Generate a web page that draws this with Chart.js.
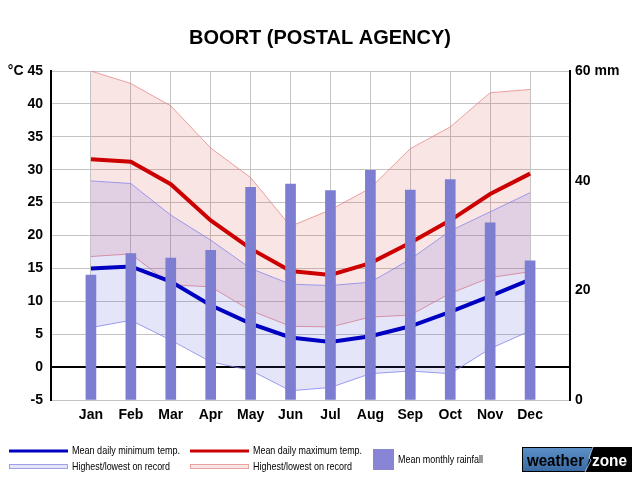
<!DOCTYPE html>
<html>
<head>
<meta charset="utf-8">
<script src="https://cdn.jsdelivr.net/npm/chart.js@4.4.1/dist/chart.umd.min.js"></script>
<style>
html,body{margin:0;padding:0;background:#fff;}
#wrap{width:640px;height:480px;position:relative;}
</style>
</head>
<body>
<div id="wrap"><canvas id="c" width="640" height="480"></canvas></div>
<script>
const titleText = 'BOORT (POSTAL AGENCY)';
const months = ['Jan','Feb','Mar','Apr','May','Jun','Jul','Aug','Sep','Oct','Nov','Dec'];
const meanMin    = [15.0,15.3,13.0,9.4,6.6,4.5,3.8,4.7,6.2,8.4,10.8,13.3];
const meanMax    = [31.6,31.2,27.8,22.3,18.0,14.6,14.0,15.8,18.9,22.3,26.3,29.4];
const highestMax = [45.0,43.1,39.7,33.3,28.8,21.4,23.9,27.2,33.2,36.5,41.7,42.2];
const lowestMax  = [16.8,17.2,12.5,12.2,8.6,6.2,6.1,7.6,7.9,11.2,13.6,14.5];
const highestMin = [28.3,27.9,23.1,19.3,15.0,12.6,12.4,12.9,16.4,20.7,23.6,26.5];
const lowestMin  = [6.0,7.1,4.1,0.8,-0.5,-3.6,-3.1,-1.0,-0.6,-1.0,2.8,5.5];
const rainfall   = [22.8,26.7,25.9,27.3,38.8,39.4,38.2,41.9,38.3,40.2,32.3,25.4];
const tempTicks = {min:-5, max:45, step:5};
const rainTicks = {min:0, max:60, step:20};
const legendLabels = ['Mean daily minimum temp.','Highest/lowest on record','Mean daily maximum temp.','Highest/lowest on record','Mean monthly rainfall'];

const FONT = "'Liberation Sans', Arial, sans-serif";
const pts = arr => arr.map((v,i)=>({x:i,y:v}));

const decor = {
  id:'decor',
  afterDraw(chart){
    const ctx = chart.ctx;
    ctx.save();
    // title
    ctx.fillStyle = '#000';
    ctx.font = 'bold 20px ' + FONT;
    ctx.textAlign = 'center';
    ctx.textBaseline = 'middle';
    ctx.fillText(titleText, 320, 38);
    // legend
    ctx.textAlign = 'left';
    ctx.font = '11px ' + FONT;
    // blue line
    ctx.fillStyle = '#0000c0';
    ctx.fillRect(9, 449.5, 59, 3);
    ctx.fillStyle = '#000';
    ctx.fillText(legendLabels[0], 72, 451, 108);
    // blue band
    ctx.fillStyle = 'rgb(229,229,250)';
    ctx.fillRect(9.5, 464.5, 58, 4);
    ctx.strokeStyle = 'rgb(160,160,232)';
    ctx.lineWidth = 1;
    ctx.strokeRect(9.5, 464.5, 58, 4);
    ctx.fillStyle = '#000';
    ctx.fillText(legendLabels[1], 72, 467, 98);
    // red line
    ctx.fillStyle = '#cc0000';
    ctx.fillRect(190, 449.5, 59, 3);
    ctx.fillStyle = '#000';
    ctx.fillText(legendLabels[2], 253, 451, 109);
    // red band
    ctx.fillStyle = 'rgb(250,229,229)';
    ctx.fillRect(190.5, 464.5, 58, 4);
    ctx.strokeStyle = 'rgb(232,160,160)';
    ctx.strokeRect(190.5, 464.5, 58, 4);
    ctx.fillStyle = '#000';
    ctx.fillText(legendLabels[3], 253, 467, 99);
    // rain swatch
    ctx.fillStyle = 'rgb(136,134,212)';
    ctx.fillRect(373, 449, 21, 21);
    ctx.fillStyle = '#000';
    ctx.fillText(legendLabels[4], 398, 459.5, 85);
    // logo
    ctx.fillStyle = '#000';
    ctx.fillRect(522, 447, 110, 25);
    const g = ctx.createLinearGradient(0,448,0,471);
    g.addColorStop(0,'#5b8fc6');
    g.addColorStop(1,'#3a6aa3');
    ctx.fillStyle = g;
    ctx.beginPath();
    ctx.moveTo(523,448); ctx.lineTo(592,448); ctx.lineTo(586,471); ctx.lineTo(523,471); ctx.closePath();
    ctx.fill();
    ctx.strokeStyle = 'rgba(200,220,255,0.8)';
    ctx.lineWidth = 1;
    ctx.beginPath();
    ctx.moveTo(593,447); ctx.lineTo(589,458); ctx.lineTo(591,460); ctx.lineTo(585,472);
    ctx.stroke();
    ctx.font = 'bold 16px ' + FONT;
    ctx.textBaseline = 'alphabetic';
    ctx.fillStyle = '#000';
    ctx.fillText('weather', 527, 466, 57);
    ctx.fillStyle = '#fff';
    ctx.fillText('zone', 592, 466, 35);
    ctx.restore();
  }
};

new Chart(document.getElementById('c'), {
  data: {
    datasets: [
      {type:'bar', label:'Mean monthly rainfall', data: pts(rainfall), yAxisID:'y1', xAxisID:'x',
       backgroundColor:'rgb(125,125,210)', borderWidth:0, barThickness:10, order:0},
      {type:'line', label:'Mean daily maximum temp.', data: pts(meanMax), yAxisID:'y',
       borderColor:'#cc0000', borderWidth:4, pointRadius:0, fill:false, tension:0, order:1},
      {type:'line', label:'Mean daily minimum temp.', data: pts(meanMin), yAxisID:'y',
       borderColor:'#0000c0', borderWidth:4, pointRadius:0, fill:false, tension:0, order:1},
      {type:'line', label:'Highest min', data: pts(highestMin), yAxisID:'y',
       borderColor:'rgba(130,130,235,0.75)', borderWidth:1, pointRadius:0, tension:0,
       fill:'+1', backgroundColor:'rgba(80,80,220,0.15)', order:2},
      {type:'line', label:'Lowest min', data: pts(lowestMin), yAxisID:'y',
       borderColor:'rgba(130,130,235,0.75)', borderWidth:1, pointRadius:0, tension:0, fill:false, order:2},
      {type:'line', label:'Highest max', data: pts(highestMax), yAxisID:'y',
       borderColor:'rgba(230,130,130,0.75)', borderWidth:1, pointRadius:0, tension:0,
       fill:'+1', backgroundColor:'rgba(220,80,80,0.15)', order:3},
      {type:'line', label:'Lowest max', data: pts(lowestMax), yAxisID:'y',
       borderColor:'rgba(230,130,130,0.75)', borderWidth:1, pointRadius:0, tension:0, fill:false, order:3}
    ]
  },
  options: {
    responsive:false,
    animation:false,
    events:[],
    layout:{padding:{top:71,left:0,right:0,bottom:0}},
    plugins:{legend:{display:false}, tooltip:{enabled:false}, title:{display:false}},
    scales:{
      x:{
        type:'linear', position:'bottom', min:-1, max:12, offset:false,
        afterFit(s){ s.height = 80; },
        ticks:{stepSize:1, autoSkip:false, maxRotation:0,
          callback:(v)=> (v>=0 && v<=11) ? months[v] : '',
          font:{family:FONT, size:14, weight:'bold'}, color:'#000', padding:7},
        grid:{drawTicks:false, offset:false,
          color:(c)=> (c.tick && c.tick.value>=0 && c.tick.value<=11) ? '#c4c4c4' : 'rgba(0,0,0,0)',
          lineWidth:1},
        border:{color:'#c4c4c4', width:1}
      },
      y:{
        type:'linear', position:'left', min:tempTicks.min, max:tempTicks.max,
        afterFit(s){ s.width = 51; },
        ticks:{stepSize:tempTicks.step, callback:(v)=> v===tempTicks.max ? '°C ' + v : v,
          font:{family:FONT, size:14, weight:'bold'}, color:'#000', padding:8},
        grid:{drawTicks:false,
          color:(c)=> (c.tick && c.tick.value===0) ? '#000' : '#c4c4c4',
          lineWidth:(c)=> (c.tick && c.tick.value===0) ? 2 : 1},
        border:{color:'#000', width:2}
      },
      y1:{
        type:'linear', position:'right', min:rainTicks.min, max:rainTicks.max,
        afterFit(s){ s.width = 70; },
        ticks:{stepSize:rainTicks.step, callback:(v)=> v===rainTicks.max ? v + ' mm' : v,
          font:{family:FONT, size:14, weight:'bold'}, color:'#000', padding:5},
        grid:{drawOnChartArea:false, drawTicks:false},
        border:{color:'#000', width:2}
      }
    }
  },
  plugins:[decor]
});
</script>
</body>
</html>
